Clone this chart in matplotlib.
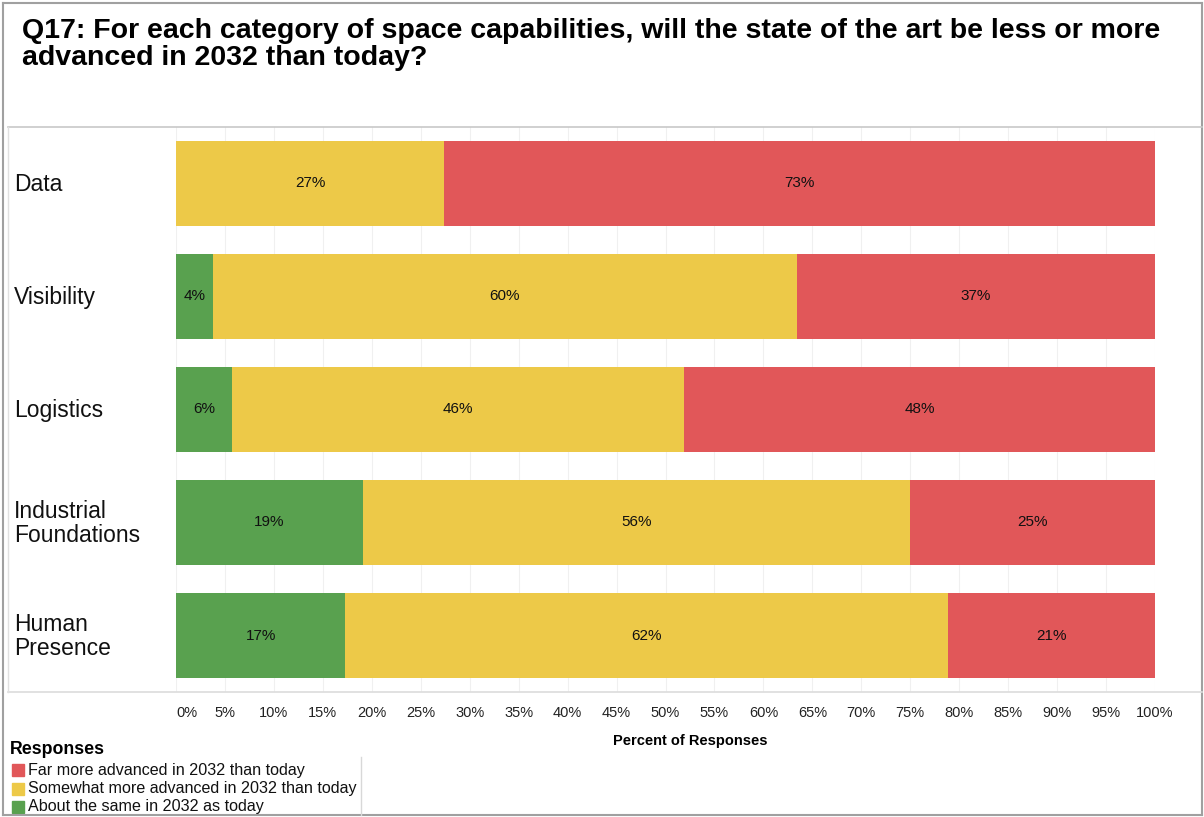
import numpy as np
import matplotlib.pyplot as plt
from matplotlib.lines import Line2D
from matplotlib.patches import Rectangle

# data (percent of responses)
categories = ['Data', 'Visibility', 'Logistics', 'Industrial\nFoundations', 'Human\nPresence']
same = [0.0, 3.8, 5.7, 19.1, 17.3]
somewhat = [27.4, 59.6, 46.2, 55.9, 61.6]
far = [72.6, 36.6, 48.1, 25.0, 21.1]
series_names = ['Far more advanced in 2032 than today',
                'Somewhat more advanced in 2032 than today',
                'About the same in 2032 as today']
tick_values = list(range(0, 101, 5))

c_far = '#E15759'
c_some = '#EDC948'
c_same = '#59A14F'

plt.rcParams['font.family'] = ['Liberation Sans', 'DejaVu Sans']

W, H = 1204, 817
fig = plt.figure(figsize=(W / 100, H / 100), dpi=100)

def px(x0, y0, x1, y1):
    # pixel box (top-left origin) -> figure fraction rect
    return [x0 / W, 1 - y1 / H, (x1 - x0) / W, (y1 - y0) / H]

ax = fig.add_axes(px(176, 127, 1155, 692))
y = np.arange(len(categories))
same = np.array(same)
somewhat = np.array(somewhat)
far = np.array(far)

for x in tick_values:
    ax.axvline(x, color='#f0f0f0', lw=0.8, zorder=0)

bh = 0.75
ax.barh(y, same, height=bh, color=c_same, zorder=2)
ax.barh(y, somewhat, left=same, height=bh, color=c_some, zorder=2)
ax.barh(y, far, left=same + somewhat, height=bh, color=c_far, zorder=2)

for i in range(len(categories)):
    lefts = [0, same[i], same[i] + somewhat[i]]
    for left, val in zip(lefts, [same[i], somewhat[i], far[i]]):
        if val > 0:
            ax.text(left + val / 2, y[i], '%d%%' % round(val), ha='center', va='center',
                    fontsize=11, color='#111111', zorder=3)

ax.set_xlim(0, 100)
ax.set_ylim(len(categories) - 0.5, -0.5)
ax.set_yticks([])
ax.set_xticks(tick_values)
ax.set_xticklabels(['%d%%' % v for v in tick_values], fontsize=10.5, color='#222222')
ax.get_xticklabels()[0].set_ha('left')
ax.tick_params(axis='x', length=0, pad=10)
for s in ax.spines.values():
    s.set_visible(False)

fig.text(690 / W, 1 - 741 / H, 'Percent of Responses', fontsize=10.5, fontweight='bold',
         ha='center', va='center')

# category labels on the left
for i, cat in enumerate(categories):
    fig.text(14 / W, 1 - (184.5 + 113 * i) / H, cat, fontsize=16.5, ha='left', va='center',
             color='#111111', linespacing=1.08)

# title
fig.text(22 / W, 1 - 18 / H, 'Q17: For each category of space capabilities, will the state of the art be less or more\nadvanced in 2032 than today?',
         fontsize=20.5, fontweight='bold', ha='left', va='top', linespacing=1.07)

# frame lines
def fline(x0, y0, x1, y1, color, lw=1.0):
    fig.add_artist(Line2D([x0 / W, x1 / W], [1 - y0 / H, 1 - y1 / H], color=color, lw=lw))

fline(3, 3, 1202, 3, '#a0a0a0', 1.5)
fline(3, 3, 3, 815, '#a0a0a0', 1.5)
fline(3, 815, 1202, 815, '#a0a0a0', 1.5)
fline(1202, 3, 1202, 815, '#a0a0a0', 1.5)
fline(8, 127, 1202, 127, '#c8c8c8', 1.2)
fline(8, 692, 1202, 692, '#dcdcdc', 1.2)
fline(8, 127, 8, 692, '#e0e0e0', 1.0)
fline(361, 757, 361, 815, '#d8d8d8', 1.0)

# legend
fig.text(10 / W, 1 - 750 / H, 'Responses', fontsize=12.8, fontweight='bold', ha='left', va='center')
for i, (name, col) in enumerate(zip(series_names, [c_far, c_some, c_same])):
    yc = 770 + 18.5 * i
    fig.add_artist(Rectangle((12 / W, 1 - (yc + 6) / H), 12 / W, 12 / H, color=col,
                             transform=fig.transFigure))
    fig.text(28 / W, 1 - yc / H, name, fontsize=11.6, ha='left', va='center', color='#111111')

fig.savefig('out.png', dpi=100)
